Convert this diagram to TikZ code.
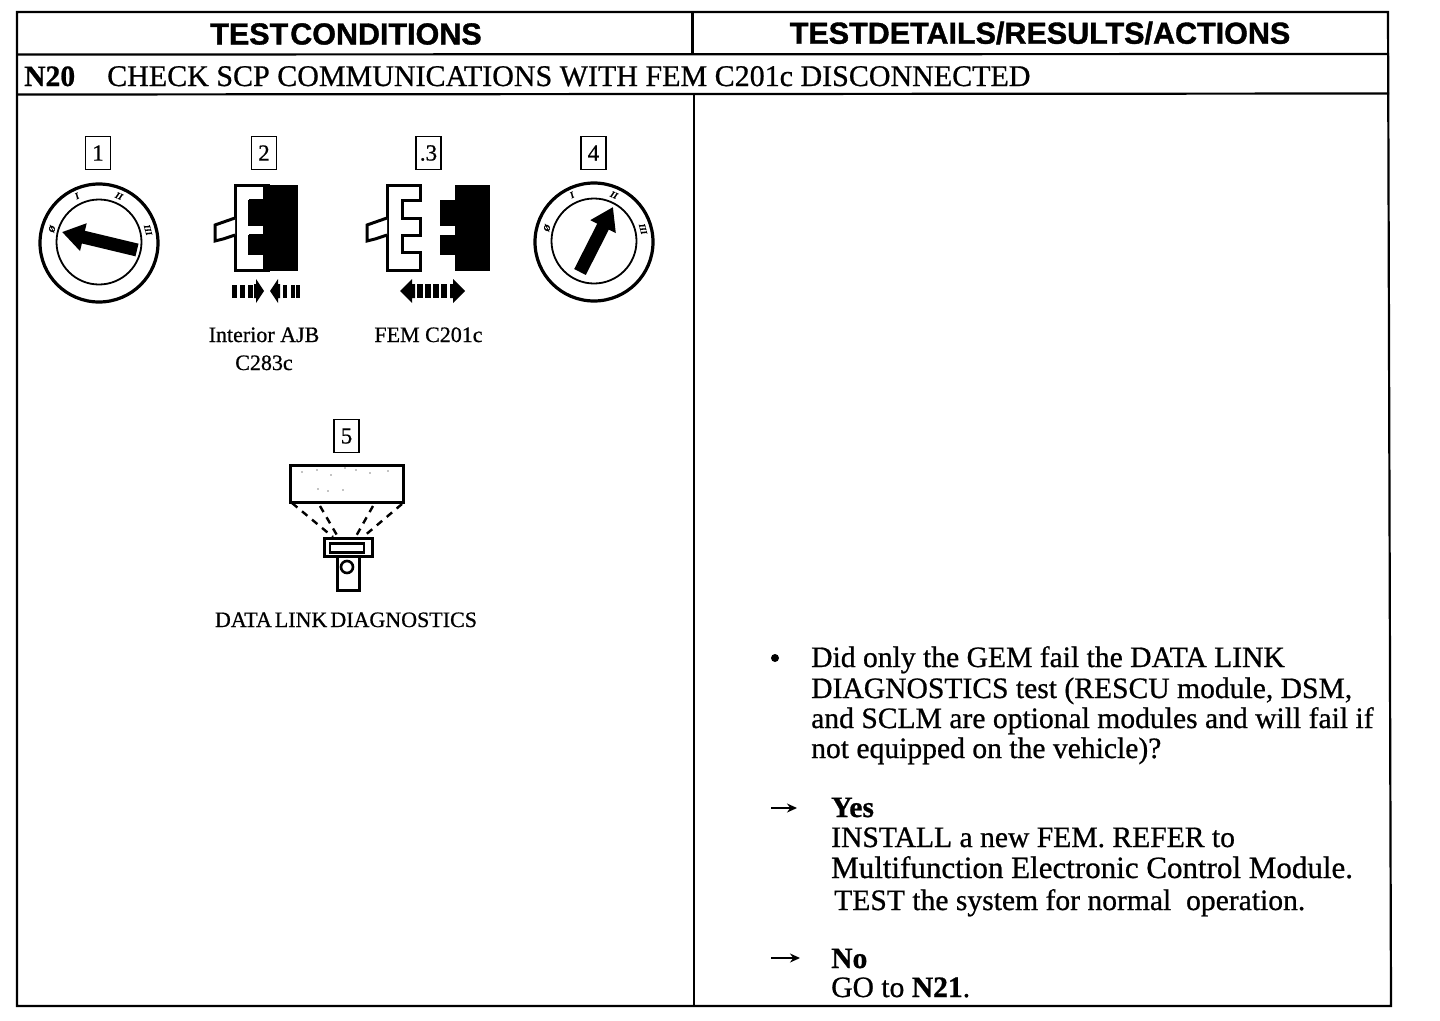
\documentclass[tikz,border=0pt]{standalone}
\usepackage{fontspec}
\setmainfont{Liberation Serif}[RawFeature={embolden=0.7}]
\setsansfont{Liberation Sans}[RawFeature={embolden=1.2}]
\usepackage{tikz}
\usetikzlibrary{arrows.meta, calc}

\tikzset{
    bodytext/.style={anchor=base west, inner sep=0pt, font=\fontsize{29.6}{29.6}\selectfont},
    headtext/.style={inner sep=0pt, font=\fontsize{30.5}{30.5}\sffamily\bfseries},
    smalltext/.style={inner sep=0pt, anchor=base, font=\fontsize{22}{22}\selectfont},
    numbox/.style={draw, line width=1.8pt, minimum width=25pt, minimum height=33pt, inner sep=0pt, font=\fontsize{23}{23}\selectfont},
    dialmark/.style={inner sep=0pt, font=\fontsize{9}{9}\bfseries\itshape\selectfont},
    rule/.style={line width=2.2pt},
    pics/keydial/.style 2 args={code={
        \draw[line width=3.2pt] (0,0) circle[radius=59];
        \draw[line width=1.8pt] (0,-1) circle[radius=42.5];
        \node[dialmark, rotate=73] (-off) at (-47,-14) {\O};
        \node[dialmark, rotate=26] (-one) at (-22,-47) {I};
        \node[dialmark, rotate=-24] (-two) at (20,-47) {II};
        \node[dialmark, rotate=-75] (-three) at (49,-13) {III};
        \coordinate (-tail) at (#1);
        \coordinate (-tip) at (#2);
        \draw[line width=13pt, -{Triangle[length=22pt,width=27pt]}] (-tail) -- (-tip);
    }},
    pics/plugwhite/.style={code={
        \draw[line width=3pt, fill=white, line join=miter]
            (0,0) -- (33,0) -- (33,15) -- (15,15) -- (15,33) -- (33,33) -- (33,50) -- (15,50)
            -- (15,67) -- (33,67) -- (33,85) -- (0,85) -- cycle;
        \draw[line width=3pt, fill=white] (0,33) -- (-20,40) -- (-20,56) -- (-12,54) -- (0,50);
    }},
    pics/plugblack/.style={code={
        \fill (15,0) rectangle (50,86);
        \fill (0,15) rectangle (16,41);
        \fill (0,50) rectangle (16,70);
    }},
}

\begin{document}
\begin{tikzpicture}[x=1pt, y=-1pt]
    \useasboundingbox (0,0) rectangle (1440,1020);
    \fill[white] (0,0) rectangle (1440,1020);

    % table
    \coordinate (tl) at (17,12);
    \coordinate (tr) at (1388,12);
    \coordinate (br) at (1391,1006);
    \coordinate (bl) at (17,1006);
    \draw[rule] (tl) -- (tr) -- (br) -- (bl) -- cycle;
    \draw[rule] (17,54.5) -- (1389,54);
    \draw[rule] (17,94.5) -- (1389,93.5);
    \draw[rule] (692.5,12) -- (692.5,54.5);
    \draw[rule] (694,94) -- (694,1006);

    \node[headtext] (headleft) at (346,34) {\spaceskip=2pt\relax TEST CONDITIONS};
    \node[headtext] (headright) at (1040,33) {TESTDETAILS/RESULTS/ACTIONS};
    \node[bodytext] (stepno) at (24,86) {\textbf{N20}};
    \node[bodytext, font=\fontsize{30}{30}\selectfont] (steptitle) at (107,86) {CHECK SCP COMMUNICATIONS WITH FEM C201c DISCONNECTED};

    % setup steps
    \node[numbox] (num1) at (98,153) {1};
    \node[numbox] (num2) at (264,153) {2};
    \node[numbox] (num3) at (428.5,153) {.3};
    \node[numbox] (num4) at (593.5,153) {4};
    \node[numbox] (num5) at (346.5,436) {5};

    \pic (keyoff) at (99,243) {keydial={38,7}{-37,-11}};
    \pic (keyrun) at (594,242) {keydial={-14,30}{19,-35}};

    \pic (ajbwhite) at (235,185) {plugwhite};
    \pic (ajbblack) at (248,185) {plugblack};
    \pic (femwhite) at (387,185) {plugwhite};
    \pic (femblack) at (440,185) {plugblack};

    % push together
    \foreach \xa in {232,240,248} \fill (\xa,285) rectangle ++(5,13);
    \fill (254,284) -- (256,284) -- (256,279) -- (264,291) -- (256,303) -- (256,298) -- (254,298) -- cycle;
    \fill (280,284) -- (278,284) -- (278,279) -- (270,291) -- (278,303) -- (278,298) -- (280,298) -- cycle;
    \foreach \xa in {283,291,296} \fill (\xa,285) rectangle ++(4,13);
    % pull apart
    \fill (415,284) -- (412,284) -- (412,279) -- (400,291) -- (412,303) -- (412,298) -- (415,298) -- cycle;
    \foreach \xa in {417,425,433,441} \fill (\xa,284) rectangle ++(6,14);
    \fill (450,284) -- (453,284) -- (453,279) -- (465,291) -- (453,303) -- (453,298) -- (450,298) -- cycle;

    \node[smalltext] (ajbname) at (264,342) {Interior AJB};
    \node[smalltext] (ajbcode) at (264,370) {C283c};
    \node[smalltext] (femname) at (428.5,342) {FEM C201c};

    % scan tool
    \node[draw, line width=3pt, minimum width=113pt, minimum height=37pt, inner sep=0pt] (screen) at (347,483.5) {};
    \foreach \xa/\ya in {302/472,317/470,331/475,345/468,356/470,370/473,388/471,318/489,328/491,343/490}
        \fill (\xa,\ya) circle[radius=.7];
    \node[draw, line width=3pt, minimum width=48pt, minimum height=18pt, inner sep=0pt] (cradle) at (348,547.5) {};
    \node[draw, line width=2.2pt, minimum width=34pt, minimum height=9pt, inner sep=0pt] (slot) at (347,548) {};
    \draw[line width=3pt, line join=miter] (337,557) -- (337,590) -- (359,590) -- (359,557);
    \node[draw, circle, line width=2.6pt, minimum size=12pt, inner sep=0pt] (lens) at (347,567) {};
    \draw[line width=2.4pt, dash pattern=on 7pt off 6pt] (292,503) -- (333,537);
    \draw[line width=2.4pt, dash pattern=on 7pt off 6pt] (320,506) -- (338,537);
    \draw[line width=2.4pt, dash pattern=on 7pt off 6pt] (373,506) -- (355,538);
    \draw[line width=2.4pt, dash pattern=on 7pt off 6pt] (402,504) -- (363,537);
    \node[smalltext] (scanname) at (346,627) {DATA\kern3pt LINK\kern3pt DIAGNOSTICS};

    % question
    \fill (775,658) circle[radius=4];
    \node[bodytext] (line1) at (811,667) {Did only the GEM fail the DATA LINK};
    \node[bodytext] (line2) at (811,698) {DIAGNOSTICS test (RESCU module, DSM,};
    \node[bodytext] (line3) at (811,728) {and SCLM are optional modules and will fail if};
    \node[bodytext] (line4) at (811,758) {not equipped on the vehicle)?};

    % answers
    \coordinate (yesfrom) at (771,808);
    \coordinate (yesto) at (797,808);
    \draw[line width=1.8pt, -{Stealth[length=10pt,width=9pt]}] (yesfrom) -- (yesto);
    \node[bodytext] (yes) at (831,817) {\textbf{Yes}};
    \node[bodytext] (line5) at (831,847) {INSTALL a new FEM. REFER to};
    \node[bodytext, font=\fontsize{31}{31}\selectfont] (line6) at (831,878) {Multifunction Electronic Control Module.};
    \node[bodytext] (line7) at (834,910) {TEST the system for normal\ \ operation.};
    \coordinate (nofrom) at (771,958);
    \coordinate (noto) at (800,958);
    \draw[line width=1.8pt, -{Stealth[length=10pt,width=9pt]}] (nofrom) -- (noto);
    \node[bodytext] (no) at (831,968) {\textbf{No}};
    \node[bodytext] (line8) at (831,997) {GO to \textbf{N21}.};
\end{tikzpicture}
\end{document}
